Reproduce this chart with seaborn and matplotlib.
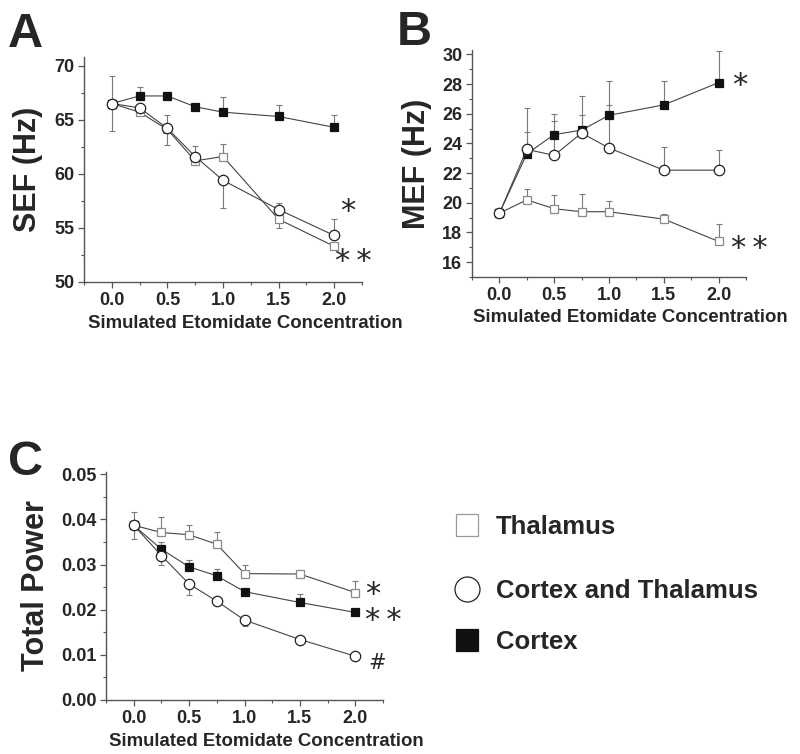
import numpy as np
import pandas as pd
import matplotlib
matplotlib.use("Agg")
import matplotlib.pyplot as plt
from matplotlib.lines import Line2D
from matplotlib.ticker import MultipleLocator
import seaborn as sns

# --- DATA ---
conc = [0.0, 0.25, 0.5, 0.75, 1.0, 1.5, 2.0]
series_names = ["Thalamus", "Cortex and Thalamus", "Cortex"]

# SEF (Hz)
sef_thal = [66.5, 65.7, 64.1, 61.2, 61.6, 55.8, 53.3]
sef_thal_up = [2.5, 0, 0, 0, 1.2, 0, 0]
sef_thal_dn = [2.5, 0, 1.4, 0, 0, 0.8, 0]
sef_both = [66.5, 66.1, 64.2, 61.6, 59.4, 56.7, 54.3]
sef_both_up = [0, 0, 1.2, 1.0, 0, 0.6, 1.5]
sef_both_dn = [0, 0, 0, 0, 2.6, 0, 0]
sef_ctx = [66.5, 67.2, 67.2, 66.2, 65.7, 65.3, 64.3]
sef_ctx_up = [0, 0.8, 0.4, 0, 1.4, 1.1, 1.1]
sef_ctx_dn = [0, 0, 0, 0, 0, 0, 0]

# MEF (Hz)
mef_thal = [19.3, 20.2, 19.6, 19.4, 19.4, 18.9, 17.4]
mef_thal_up = [0.3, 0.7, 0.95, 1.2, 0.75, 0.35, 1.2]
mef_both = [19.3, 23.6, 23.2, 24.7, 23.7, 22.2, 22.2]
mef_both_up = [0.3, 2.8, 2.3, 1.2, 2.9, 1.55, 1.35]
mef_ctx = [19.3, 23.3, 24.6, 24.9, 25.9, 26.6, 28.1]
mef_ctx_up = [0.3, 1.5, 1.4, 2.3, 2.3, 1.6, 2.1]
mef_zero = [0, 0, 0, 0, 0, 0, 0]

# Total power
pow_thal = [0.0387, 0.0371, 0.0366, 0.0345, 0.0280, 0.0279, 0.0238]
pow_thal_up = [0.003, 0.0034, 0.0022, 0.0028, 0.002, 0.0004, 0.0025]
pow_thal_dn = [0.003, 0, 0, 0, 0, 0, 0]
pow_both = [0.0387, 0.0320, 0.0257, 0.0219, 0.0177, 0.0134, 0.0097]
pow_both_up = [0, 0, 0, 0, 0, 0, 0]
pow_both_dn = [0, 0.0022, 0.0024, 0.0004, 0.0014, 0.0004, 0.0004]
pow_ctx = [0.0387, 0.0334, 0.0295, 0.0275, 0.0240, 0.0216, 0.0194]
pow_ctx_up = [0, 0.0017, 0.0016, 0.0016, 0.0004, 0.0018, 0.0005]
pow_ctx_dn = [0, 0, 0, 0, 0, 0, 0]

ONE_STAR = "*"
TWO_STARS = "*\u2009*"

# --- STYLE ---
sns.set_style("ticks")
plt.rcParams["font.family"] = ["Liberation Sans", "DejaVu Sans"]
plt.rcParams["font.weight"] = "bold"
plt.rcParams["axes.labelweight"] = "bold"

STYLE = {
    "Thalamus": dict(marker="s", mfc="white", mec="#8a8a8a", ms=5.5),
    "Cortex and Thalamus": dict(marker="o", mfc="white", mec="#222222", ms=7.5),
    "Cortex": dict(marker="s", mfc="#111111", mec="#111111", ms=5.5),
}
DRAW_ORDER = ["Thalamus", "Cortex", "Cortex and Thalamus"]
MARK_FONT = dict(family="DejaVu Sans", fontweight="normal", ha="center", va="center",
                 clip_on=False)

W, H = 800, 754
fig = plt.figure(figsize=(W / 100, H / 100), dpi=100)


def px_axes(left, right, top, bottom):
    return fig.add_axes([left / W, 1 - bottom / H, (right - left) / W, (bottom - top) / H])


def draw_panel(ax, data, ylim, ymajor, yminor, yfmt):
    for z, name in enumerate(DRAW_ORDER):
        mean, up, dn = data[name]
        df = pd.DataFrame({"conc": conc, "val": mean})
        st = STYLE[name]
        ax.errorbar(conc, mean, yerr=[dn, up], fmt="none", ecolor="#7a7a7a",
                    elinewidth=0.8, capsize=2.5, capthick=0.8, zorder=2 + z)
        sns.lineplot(data=df, x="conc", y="val", ax=ax, color="#444444", lw=0.8,
                     marker=st["marker"], markersize=st["ms"], markerfacecolor=st["mfc"],
                     markeredgecolor=st["mec"], markeredgewidth=0.9, zorder=5 + z)
    ax.set_xlim(-0.25, 2.25)
    ax.set_ylim(*ylim)
    ax.xaxis.set_major_locator(MultipleLocator(0.5))
    ax.xaxis.set_minor_locator(MultipleLocator(0.25))
    ax.yaxis.set_major_locator(MultipleLocator(ymajor))
    ax.yaxis.set_minor_locator(MultipleLocator(yminor))
    ax.xaxis.set_major_formatter(plt.FormatStrFormatter("%.1f"))
    ax.yaxis.set_major_formatter(plt.FormatStrFormatter(yfmt))
    sns.despine(ax=ax)
    for sp in ["left", "bottom"]:
        ax.spines[sp].set_color("#555555")
        ax.spines[sp].set_linewidth(1.0)
    ax.tick_params(which="major", direction="out", length=4, width=0.9, color="#555555",
                   labelsize=13, pad=3)
    ax.tick_params(which="minor", direction="out", length=2.5, width=0.8, color="#555555")
    for lab in ax.get_xticklabels() + ax.get_yticklabels():
        lab.set_fontweight("bold")
    ax.set_xlabel("Simulated Etomidate Concentration", fontsize=13.4, fontweight="bold")


# Panel A
axA = px_axes(84, 362, 57, 282)
draw_panel(axA, {"Thalamus": (sef_thal, sef_thal_up, sef_thal_dn),
                 "Cortex and Thalamus": (sef_both, sef_both_up, sef_both_dn),
                 "Cortex": (sef_ctx, sef_ctx_up, sef_ctx_dn)},
           (50, 70.8), 5, 2.5, "%d")
axA.set_ylabel("SEF (Hz)", fontsize=22, fontweight="bold")
axA.yaxis.set_label_coords(-0.147, 0.5)
axA.xaxis.set_label_coords(0.58, -0.147)
axA.text(2.12, 56.5, ONE_STAR, fontsize=22, **MARK_FONT)
axA.text(2.17, 51.9, TWO_STARS, fontsize=22, **MARK_FONT)

# Panel B
axB = px_axes(472, 746, 50, 277)
draw_panel(axB, {"Thalamus": (mef_thal, mef_thal_up, mef_zero),
                 "Cortex and Thalamus": (mef_both, mef_both_up, mef_zero),
                 "Cortex": (mef_ctx, mef_ctx_up, mef_zero)},
           (15, 30.3), 2, 1, "%d")
axB.set_ylabel("MEF (Hz)", fontsize=22, fontweight="bold")
axB.yaxis.set_label_coords(-0.146, 0.5)
axB.xaxis.set_label_coords(0.577, -0.14)
axB.text(2.19, 27.9, ONE_STAR, fontsize=22, **MARK_FONT)
axB.text(2.28, 16.9, TWO_STARS, fontsize=22, **MARK_FONT)

# Panel C
axC = px_axes(106, 383, 472, 700)
draw_panel(axC, {"Thalamus": (pow_thal, pow_thal_up, pow_thal_dn),
                 "Cortex and Thalamus": (pow_both, pow_both_up, pow_both_dn),
                 "Cortex": (pow_ctx, pow_ctx_up, pow_ctx_dn)},
           (0, 0.0505), 0.01, 0.005, "%.2f")
axC.set_ylabel("Total Power", fontsize=22, fontweight="bold")
axC.yaxis.set_label_coords(-0.20, 0.5)
axC.xaxis.set_label_coords(0.58, -0.145)
axC.text(2.16, 0.0234, ONE_STAR, fontsize=22, **MARK_FONT)
axC.text(2.25, 0.0175, TWO_STARS, fontsize=22, **MARK_FONT)
axC.text(2.2, 0.0081, "#", fontsize=15, **MARK_FONT)

# Panel letters
for letter, x, y in [("A", 8, 47), ("B", 397, 45), ("C", 8, 475)]:
    fig.text(x / W, 1 - y / H, letter, fontsize=35, fontweight="bold", ha="left", va="baseline")

# Legend, one entry per row
legend_rows = [527, 591, 642]
for name, y in zip(series_names, legend_rows):
    st = STYLE[name]
    handle = Line2D([], [], ls="none", marker=st["marker"], markerfacecolor=st["mfc"],
                    markeredgecolor=st["mec"] if name != "Thalamus" else "#999999",
                    markersize=16 if st["marker"] == "s" else 18, markeredgewidth=0.9)
    leg = fig.legend(handles=[handle], labels=[name], loc="center left",
                     bbox_to_anchor=(452 / W, 1 - y / H), frameon=False,
                     prop={"size": 18.5, "weight": "bold"}, handletextpad=0.5,
                     handlelength=1.2, borderaxespad=0, borderpad=0)

fig.savefig("out.png", dpi=100)
